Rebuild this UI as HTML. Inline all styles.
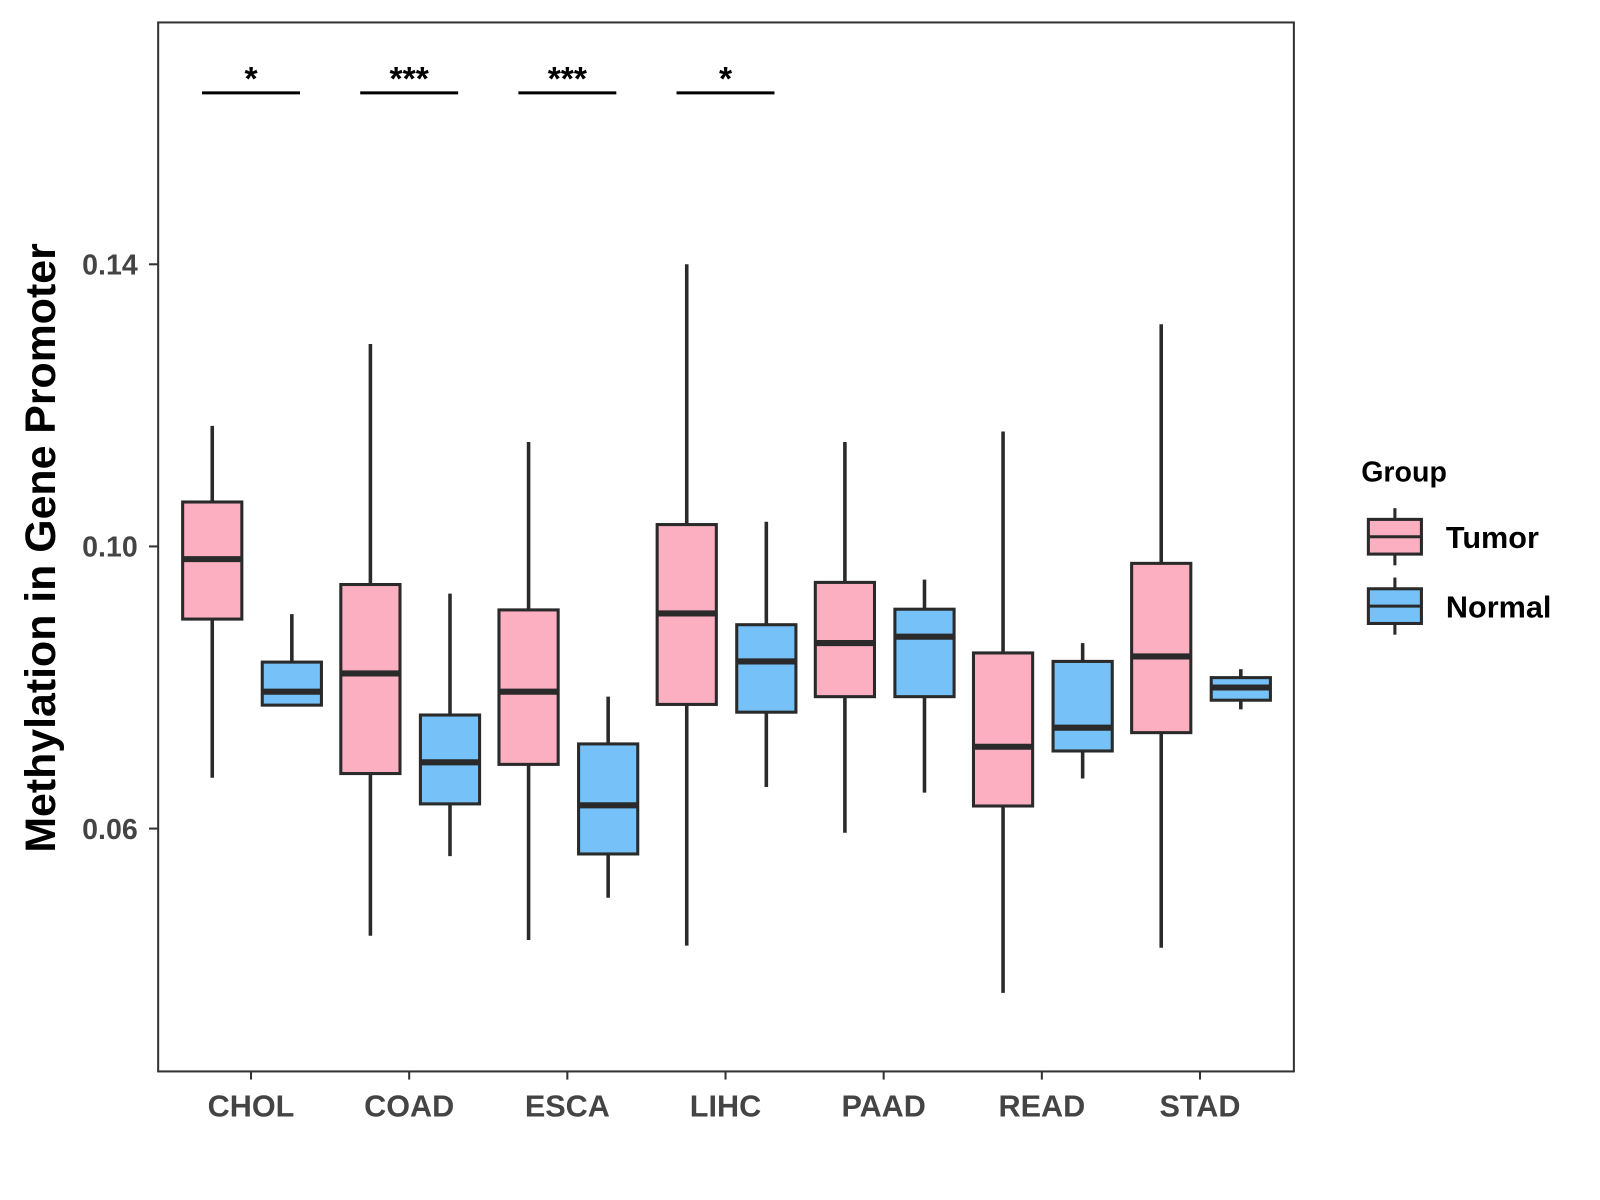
<!DOCTYPE html>
<html><head><meta charset="utf-8"><style>
body{margin:0;background:#fff;}
svg{display:block;font-family:"Liberation Sans",Arial,sans-serif;}
</style></head><body>
<svg id="chart" width="1600" height="1200" viewBox="0 0 1568 1176"></svg>
<script>
const categories=["CHOL","COAD","ESCA","LIHC","PAAD","READ","STAD"];
const tumorStats=[[0.0672,0.0897,0.0982,0.1063,0.1171],[0.0448,0.0678,0.0820,0.0946,0.1287],[0.0442,0.0691,0.0794,0.0910,0.1148],[0.0434,0.0776,0.0905,0.1031,0.1400],[0.0594,0.0787,0.0863,0.0949,0.1148],[0.0367,0.0632,0.0716,0.0849,0.1163],[0.0431,0.0736,0.0844,0.0976,0.1315]];
const normalStats=[[0.0775,0.0775,0.0794,0.0836,0.0904],[0.0561,0.0635,0.0694,0.0761,0.0933],[0.0502,0.0564,0.0633,0.0720,0.0787],[0.0659,0.0765,0.0837,0.0889,0.1035],[0.0651,0.0787,0.0872,0.0911,0.0953],[0.0671,0.0710,0.0743,0.0837,0.0863],[0.0769,0.0782,0.0800,0.0814,0.0826]];
const significance=["*","***","***","*","","",""];
const yTicks=[0.06,0.10,0.14];
const yTickLabels=["0.06","0.10","0.14"];
const seriesNames=["Tumor","Normal"];
const seriesColors=["#fbafc1","#75c1f8"];

const NS="http://www.w3.org/2000/svg";
const svg=document.getElementById('chart');
function el(t,a,p){const e=document.createElementNS(NS,t);for(const k in a)e.setAttribute(k,a[k]);(p||svg).appendChild(e);return e;}
const y=v=>259+(0.14-v)*6912.5;
const x=i=>246+i*155;
const stroke="#2a2a2a";

const panel=el('rect',{x:155,y:22,width:1113,height:1028,fill:'none',stroke:'#333','stroke-width':2});


yTicks.forEach((v,i)=>{
  const t=el('line',{x1:146,x2:155,y1:y(v),y2:y(v),stroke:'#333','stroke-width':2});
  
  const l=el('text',{x:135,y:y(v)+10,'text-anchor':'end','font-size':28,'font-weight':'bold',fill:'#444'});
  l.textContent=yTickLabels[i];
  
});
categories.forEach((c,i)=>{
  const t=el('line',{x1:x(i),x2:x(i),y1:1050,y2:1058,stroke:'#333','stroke-width':2});
  
  const l=el('text',{x:x(i),y:1094,'text-anchor':'middle','font-size':30,'font-weight':'bold',fill:'#444'});
  l.textContent=c;
  
});

function box(cx,s,color,name){
  const g=el('g',{});
  
  el('line',{x1:cx,x2:cx,y1:y(s[4]),y2:y(s[0]),stroke:stroke,'stroke-width':3.5},g);
  el('rect',{x:cx-29,y:y(s[3]),width:58,height:y(s[1])-y(s[3]),fill:color,stroke:stroke,'stroke-width':3},g);
  el('line',{x1:cx-29,x2:cx+29,y1:y(s[2]),y2:y(s[2]),stroke:stroke,'stroke-width':6},g);
}
categories.forEach((c,i)=>{
  box(x(i)-38,tumorStats[i],seriesColors[0],'box-tumor-'+c.toLowerCase());
  box(x(i)+40,normalStats[i],seriesColors[1],'box-normal-'+c.toLowerCase());
  if(significance[i]){
    const b=el('line',{x1:x(i)-48,x2:x(i)+48,y1:91,y2:91,stroke:'#000','stroke-width':3});
    
    const s=el('text',{x:x(i),y:88,'text-anchor':'middle','font-size':33,'font-weight':'bold',fill:'#000'});
    s.textContent=significance[i];
    
  }
});

const yt=el('text',{x:40,y:537,'text-anchor':'middle','font-size':42,'font-weight':'bold',fill:'#000',transform:'rotate(-90 40 537) translate(0 14)'});
yt.textContent='Methylation in Gene Promoter';


const lt=el('text',{x:1334,y:472,'font-size':28,'font-weight':'bold',fill:'#000'});
lt.textContent='Group';

seriesNames.forEach((n,i)=>{
  const g=el('g',{});
  
  const cy=526+i*68, cx=1367;
  el('line',{x1:cx,x2:cx,y1:cy-28,y2:cy+28,stroke:stroke,'stroke-width':3},g);
  el('rect',{x:1341,y:cy-17,width:52,height:34,fill:seriesColors[i],stroke:stroke,'stroke-width':3},g);
  el('line',{x1:1341,x2:1393,y1:cy,y2:cy,stroke:stroke,'stroke-width':3},g);
  const t=el('text',{x:1417,y:cy+11,'font-size':30,'font-weight':'bold',fill:'#000'},g);
  t.textContent=n;
});
</script>
</body></html>
